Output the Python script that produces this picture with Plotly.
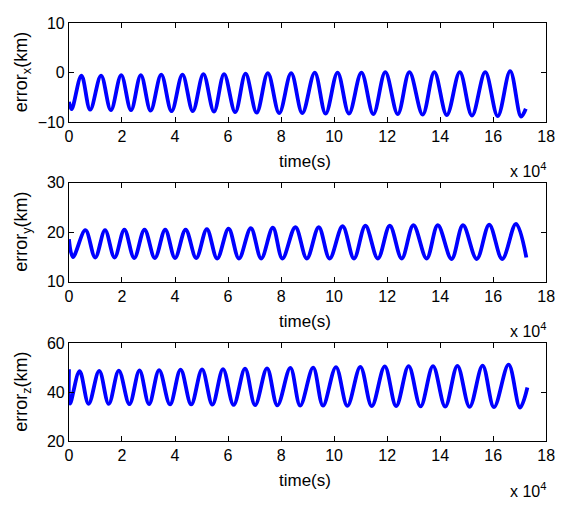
import plotly.graph_objects as go

W, H = 565, 506

# time axis in units of 1e4 s; values in km (extrema of each oscillation)
x_start = (0.0, -5.9)
x_peak_t = [0.47, 1.21, 1.97, 2.71, 3.48, 4.28, 5.07, 5.85, 6.66, 7.5, 8.38, 9.27, 10.13, 11.03, 11.93, 12.84, 13.78, 14.74, 15.70, 16.64]
x_peak_v = [-0.6, -0.6, -0.5, -0.5, -0.4, -0.4, -0.3, -0.3, -0.2, -0.1, -0.1, 0.0, 0.0, 0.0, 0.1, 0.1, 0.1, 0.1, 0.1, 0.3]
x_trough_t = [0.1, 0.80, 1.58, 2.34, 3.08, 3.87, 4.67, 5.47, 6.27, 7.08, 7.93, 8.8, 9.68, 10.56, 11.48, 12.4, 13.34, 14.25, 15.2, 16.17, 17.05]
x_trough_v = [-7.4, -7.5, -7.6, -7.6, -7.7, -7.8, -7.8, -7.9, -8.0, -8.1, -8.2, -8.2, -8.3, -8.3, -8.4, -8.4, -8.5, -8.6, -8.7, -8.8, -8.9]
x_end = (17.23, -7.3)

y_start = (0.0, 18.6)
y_peak_t = [0.62, 1.36, 2.09, 2.85, 3.63, 4.40, 5.2, 6.02, 6.86, 7.69, 8.54, 9.42, 10.32, 11.18, 12.1, 12.99, 13.91, 14.86, 15.85, 16.86]
y_peak_v = [20.4, 20.4, 20.5, 20.5, 20.5, 20.5, 20.6, 20.7, 20.8, 20.9, 21.0, 21.0, 21.2, 21.3, 21.3, 21.4, 21.4, 21.4, 21.5, 21.7]
y_trough_t = [0.15, 0.99, 1.72, 2.46, 3.24, 4.0, 4.8, 5.59, 6.41, 7.25, 8.05, 8.97, 9.83, 10.75, 11.65, 12.55, 13.49, 14.43, 15.38, 16.34]
y_trough_v = [15.0, 14.9, 14.9, 14.8, 14.8, 14.8, 14.8, 14.7, 14.7, 14.7, 14.7, 14.7, 14.7, 14.7, 14.7, 14.7, 14.7, 14.6, 14.6, 14.6]
y_end = (17.25, 14.9)

z_start = (0.0, 49.3)
z_peak_t = [0.4, 1.14, 1.88, 2.66, 3.4, 4.21, 5.02, 5.81, 6.64, 7.47, 8.35, 9.21, 10.07, 10.99, 11.91, 12.81, 13.73, 14.65, 15.6, 16.58]
z_peak_v = [48.6, 48.7, 48.8, 48.9, 49.0, 49.2, 49.3, 49.4, 49.6, 49.7, 49.9, 50.0, 50.2, 50.3, 50.5, 50.6, 50.6, 50.7, 50.8, 51.2]
z_trough_t = [0.04, 0.74, 1.5, 2.28, 3.02, 3.81, 4.61, 5.41, 6.21, 7.02, 7.86, 8.72, 9.58, 10.5, 11.42, 12.34, 13.26, 14.19, 15.11, 16.03, 17.01]
z_trough_v = [35.3, 35.2, 35.2, 35.1, 35.1, 35.0, 35.0, 34.9, 34.8, 34.7, 34.6, 34.5, 34.5, 34.4, 34.3, 34.3, 34.2, 34.1, 34.0, 33.9, 33.7]
z_end = (17.29, 41.9)

x_ticks = [0, 2, 4, 6, 8, 10, 12, 14, 16, 18]
y_ticks = {"x": [-10, 0, 10], "y": [10, 20, 30], "z": [20, 40, 60]}
y_labels = {"x": "error<sub>x</sub>(km)", "y": "error<sub>y</sub>(km)", "z": "error<sub>z</sub>(km)"}


def merge(start, pt, pv, tt, tv, end):
    pts = [start] + list(zip(pt, pv)) + list(zip(tt, tv)) + [end]
    pts.sort()
    return [p[0] for p in pts], [p[1] for p in pts]


series = [
    ("x", merge(x_start, x_peak_t, x_peak_v, x_trough_t, x_trough_v, x_end)),
    ("y", merge(y_start, y_peak_t, y_peak_v, y_trough_t, y_trough_v, y_end)),
    ("z", merge(z_start, z_peak_t, z_peak_v, z_trough_t, z_trough_v, z_end)),
]

FONT = "Liberation Sans, Arial, Helvetica, sans-serif"
# pixel boxes of the three axes (top, bottom)
boxes = [(15.7, 118.0), (180.7, 283.3), (346.7, 448.3)]
XL, XR = 66.5, 555.0

fig = go.Figure()
layout = dict(
    width=W, height=H, margin=dict(l=0, r=0, t=0, b=0),
    paper_bgcolor="white", plot_bgcolor="white", showlegend=False,
    font=dict(family=FONT, size=16, color="black"),
)
annotations = []
for i, (key, (t, v)) in enumerate(series):
    n = "" if i == 0 else str(i + 1)
    fig.add_trace(go.Scatter(
        x=t, y=v, mode="lines", xaxis="x" + n, yaxis="y" + n,
        line=dict(color="#0000ff", width=3.8, shape="spline", smoothing=1.0),
        hoverinfo="skip",
    ))
    top, bot = boxes[i]
    common = dict(showline=True, linecolor="black", linewidth=1, mirror="ticks",
                  ticks="inside", ticklen=5, tickcolor="black", showgrid=False,
                  zeroline=False, tickfont=dict(family=FONT, size=16, color="black"))
    layout["xaxis" + n] = dict(domain=[XL / W, XR / W], range=[0, 18], tickvals=x_ticks,
                               anchor="y" + n, **common)
    yt = y_ticks[key]
    layout["yaxis" + n] = dict(domain=[1 - bot / H, 1 - top / H], range=[yt[0], yt[-1]],
                               tickvals=yt, anchor="x" + n, **common)
    annotations.append(dict(text=y_labels[key], x=19 / W, y=1 - (top + bot) / 2 / H,
                            xref="paper", yref="paper", showarrow=False, textangle=-90,
                            xanchor="center", yanchor="middle",
                            font=dict(family=FONT, size=18, color="black")))
    annotations.append(dict(text="time(s)", x=308 / W, y=1 - (bot + 41) / H,
                            xref="paper", yref="paper", showarrow=False,
                            xanchor="center", yanchor="middle",
                            font=dict(family=FONT, size=17, color="black")))
    annotations.append(dict(text="x 10<sup>4</sup>", x=516 / W, y=1 - (bot + 50) / H,
                            xref="paper", yref="paper", showarrow=False,
                            xanchor="left", yanchor="middle",
                            font=dict(family=FONT, size=16, color="black")))
layout["annotations"] = annotations
fig.update_layout(**layout)
fig.write_html("out.html")
